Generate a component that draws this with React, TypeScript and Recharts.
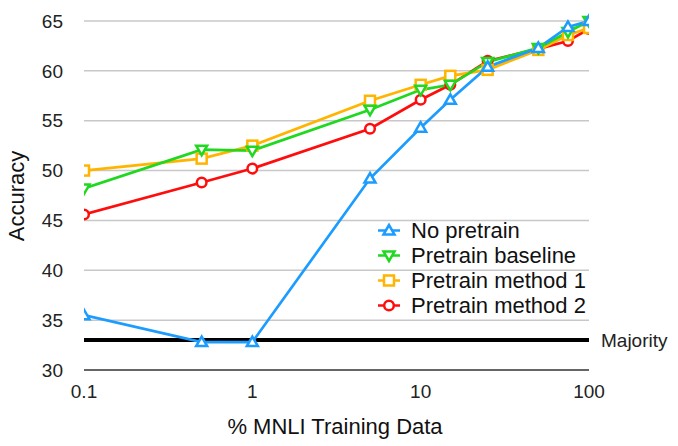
import { LineChart, Line, XAxis, YAxis, CartesianGrid, ReferenceLine, Legend } from 'recharts';

// % of MNLI training data used
const trainPct = [0.1, 0.5, 1, 5, 10, 15, 25, 50, 75, 100];

// accuracy per setting
const noPretrain = [35.5, 32.8, 32.8, 49.2, 54.3, 57.1, 60.4, 62.3, 64.4, 65.0];
const pretrainBaseline = [48.2, 52.1, 52.0, 56.1, 58.1, 58.6, 60.9, 62.3, 63.9, 65.0];
const pretrainMethod1 = [50.0, 51.2, 52.5, 57.0, 58.6, 59.5, 60.1, 62.1, 63.6, 64.3];
const pretrainMethod2 = [45.6, 48.8, 50.2, 54.2, 57.1, 58.6, 61.0, 62.2, 63.0, 64.2];

const majorityAcc = 33;

const xTicks = [0.1, 1, 10, 100];
const yTicks = [30, 35, 40, 45, 50, 55, 60, 65];

const data = trainPct.map((pct, i) => ({
  pct,
  noPretrain: noPretrain[i],
  baseline: pretrainBaseline[i],
  method1: pretrainMethod1[i],
  method2: pretrainMethod2[i],
}));

type Shape = 'up' | 'down' | 'square' | 'circle';

const series: { key: string; name: string; color: string; shape: Shape }[] = [
  { key: 'noPretrain', name: 'No pretrain', color: '#1c9cff', shape: 'up' },
  { key: 'baseline', name: 'Pretrain baseline', color: '#1fd81f', shape: 'down' },
  { key: 'method1', name: 'Pretrain method 1', color: '#ffb400', shape: 'square' },
  { key: 'method2', name: 'Pretrain method 2', color: '#ff0d0d', shape: 'circle' },
];

const FONT = '"Liberation Sans", Arial, Helvetica, sans-serif';

function marker(shape: Shape, cx: number, cy: number, color: string, key?: string) {
  const common = { stroke: color, strokeWidth: 2.5, fill: '#fff' };
  if (shape === 'up') {
    return <polygon key={key} {...common} points={`${cx},${cy - 5.5} ${cx - 5.5},${cy + 4} ${cx + 5.5},${cy + 4}`} />;
  }
  if (shape === 'down') {
    return <polygon key={key} {...common} points={`${cx},${cy + 5.5} ${cx - 5.5},${cy - 4} ${cx + 5.5},${cy - 4}`} />;
  }
  if (shape === 'square') {
    return <rect key={key} {...common} x={cx - 5} y={cy - 5} width={10} height={10} />;
  }
  return <circle key={key} {...common} cx={cx} cy={cy} r={4.8} />;
}

const LegendBox = () => (
  <div style={{ fontFamily: FONT, fontSize: 22, color: '#111' }}>
    {series.map((s) => (
      <div key={s.key} style={{ display: 'flex', alignItems: 'center', height: 25 }}>
        <svg width={24} height={25} style={{ marginRight: 10 }}>
          <line x1={1} y1={12.5} x2={23} y2={12.5} stroke={s.color} strokeWidth={2.5} />
          {marker(s.shape, 12, 12.5, s.color)}
        </svg>
        <span>{s.name}</span>
      </div>
    ))}
  </div>
);

export default function App() {
  // draw order: red first, blue on top
  const drawOrder = [...series].reverse();
  return (
    <div style={{ position: 'absolute', left: 0, top: 0, width: 678, height: 446, background: '#fff', fontFamily: FONT }}>
      <LineChart width={678} height={446} data={data} margin={{ top: 21, right: 89, bottom: 0, left: 0 }}>
        <CartesianGrid vertical={false} stroke="#c8c8c8" strokeWidth={1.5} />
        <XAxis
          dataKey="pct"
          type="number"
          scale="log"
          domain={[0.1, 100]}
          ticks={xTicks}
          height={76}
          tickLine={false}
          tickSize={0}
          tickMargin={15}
          axisLine={{ stroke: '#666', strokeWidth: 2 }}
          tick={{ fontSize: 19, fill: '#222', fontFamily: FONT }}
          allowDataOverflow
        />
        <YAxis
          type="number"
          domain={[30, 65]}
          ticks={yTicks}
          width={84}
          axisLine={false}
          tickLine={false}
          tickSize={0}
          tickMargin={21}
          tick={{ fontSize: 19, fill: '#222', fontFamily: FONT }}
        />
        <ReferenceLine
          y={majorityAcc}
          stroke="#000"
          strokeWidth={4}
          label={{ value: 'Majority', position: 'right', offset: 12, fontSize: 19, fill: '#222', fontFamily: FONT }}
        />
        {drawOrder.map((s) => (
          <Line
            key={s.key}
            dataKey={s.key}
            name={s.name}
            stroke={s.color}
            strokeWidth={2.7}
            isAnimationActive={false}
            dot={(p: any) => marker(s.shape, p.cx, p.cy, s.color, `${s.key}-${p.index}`)}
            activeDot={false}
          />
        ))}
        <Legend
          layout="vertical"
          align="center"
          verticalAlign="middle"
          content={() => <LegendBox />}
          wrapperStyle={{ left: 377, top: 218, width: 240 }}
        />
      </LineChart>
      <div
        style={{
          position: 'absolute',
          left: 17,
          top: 196,
          transform: 'translate(-50%, -50%) rotate(-90deg)',
          fontSize: 22,
          color: '#111',
          whiteSpace: 'nowrap',
        }}
      >
        Accuracy
      </div>
      <div
        style={{
          position: 'absolute',
          left: 335,
          top: 427,
          transform: 'translate(-50%, -50%)',
          fontSize: 22,
          color: '#111',
          whiteSpace: 'nowrap',
        }}
      >
        % MNLI Training Data
      </div>
    </div>
  );
}
